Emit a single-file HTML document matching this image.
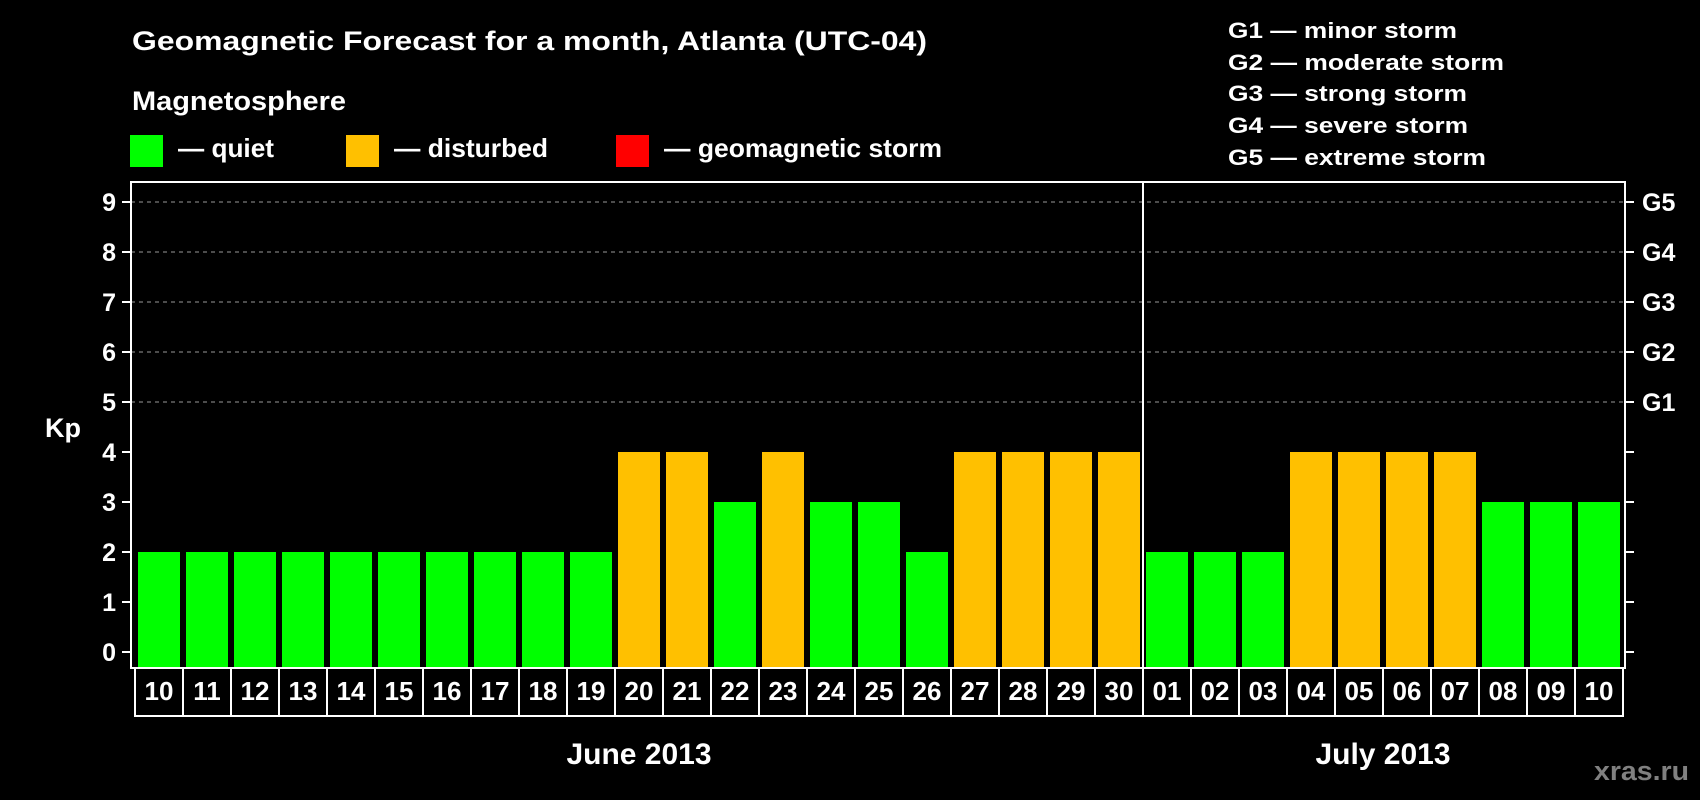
<!DOCTYPE html>
<html><head><meta charset="utf-8"><style>
html,body{margin:0;padding:0;background:#000;}
svg{display:block;font-family:"Liberation Sans",sans-serif;font-weight:bold;}
</style></head><body>
<svg id="chart" width="1700" height="800" viewBox="0 0 1700 800" xmlns="http://www.w3.org/2000/svg">
<rect width="1700" height="800" fill="#000"/>
<text x="132" y="50" font-size="27" fill="#fff" textLength="795" lengthAdjust="spacingAndGlyphs">Geomagnetic Forecast for a month, Atlanta (UTC-04)</text>
<text x="132" y="110" font-size="27" fill="#fff" textLength="214" lengthAdjust="spacingAndGlyphs">Magnetosphere</text>
<rect x="130" y="135" width="33" height="32" fill="#00ff00"/>
<text x="178" y="157" font-size="26" fill="#fff" textLength="96" lengthAdjust="spacingAndGlyphs">— quiet</text>
<rect x="346" y="135" width="33" height="32" fill="#ffc000"/>
<text x="394" y="157" font-size="26" fill="#fff" textLength="154" lengthAdjust="spacingAndGlyphs">— disturbed</text>
<rect x="616" y="135" width="33" height="32" fill="#ff0000"/>
<text x="664" y="157" font-size="26" fill="#fff" textLength="278" lengthAdjust="spacingAndGlyphs">— geomagnetic storm</text>
<g font-size="22" fill="#fff">
<text x="1228" y="38" textLength="229" lengthAdjust="spacingAndGlyphs">G1 — minor storm</text>
<text x="1228" y="70" textLength="276" lengthAdjust="spacingAndGlyphs">G2 — moderate storm</text>
<text x="1228" y="101" textLength="239" lengthAdjust="spacingAndGlyphs">G3 — strong storm</text>
<text x="1228" y="133" textLength="240" lengthAdjust="spacingAndGlyphs">G4 — severe storm</text>
<text x="1228" y="165" textLength="258" lengthAdjust="spacingAndGlyphs">G5 — extreme storm</text>
</g>
<text x="63" y="437" font-size="27" fill="#fff" text-anchor="middle">Kp</text>
<g id="grid"></g><g id="bars"></g><g id="axes"></g>
<text x="1594" y="780" font-size="27" fill="#808080" textLength="95" lengthAdjust="spacingAndGlyphs">xras.ru</text>
</svg>
<script>
const days = ["10","11","12","13","14","15","16","17","18","19","20","21","22","23","24","25","26","27","28","29","30","01","02","03","04","05","06","07","08","09","10"];
const kpValues = [2,2,2,2,2,2,2,2,2,2,4,4,3,4,3,3,2,4,4,4,4,2,2,2,4,4,4,4,3,3,3];
const yTicks = [0,1,2,3,4,5,6,7,8,9];
const gLabels = ["G1","G2","G3","G4","G5"];
const gLevels = [5,6,7,8,9];
const months = ["June 2013","July 2013"];
const monthStartIdx = [0,21];

const NS="http://www.w3.org/2000/svg";
const L=131,R=1625,T=182,B=668,X0=138,PITCH=48,BW=42;
function y(v){return 652-v*50;}
function x(i){return X0+i*PITCH;}
function mk(tag,attrs,parent){const e=document.createElementNS(NS,tag);for(const k in attrs)e.setAttribute(k,attrs[k]);parent.appendChild(e);return e;}
const grid=document.getElementById('grid'),bars=document.getElementById('bars'),axes=document.getElementById('axes');

yTicks.forEach(v=>{
  if(v>=5){const g=mk('line',{x1:L,x2:R,y1:y(v),y2:y(v),stroke:'#999','stroke-width':1,'stroke-dasharray':'4,4'},grid);
  
  }
  const t=mk('line',{x1:122,x2:L,y1:y(v),y2:y(v),stroke:'#fff','stroke-width':2},axes);
  
  
  const t2=mk('line',{x1:R,x2:1634,y1:y(v),y2:y(v),stroke:'#fff','stroke-width':2},axes);
  
  
  const lb=mk('text',{x:116,y:y(v)+9,'font-size':25,fill:'#fff','text-anchor':'end'},axes);
  lb.textContent=v;
  
  
});
gLabels.forEach((g,i)=>{
  const lb=mk('text',{x:1642,y:y(gLevels[i])+9,'font-size':25,fill:'#fff'},axes);
  lb.textContent=g;
  
  
});
kpValues.forEach((v,i)=>{
  const b=mk('rect',{x:x(i),y:y(v),width:BW,height:B-y(v),fill:v>=5?'#ff0000':(v>=4?'#ffc000':'#00ff00')},bars);
  
  
});
// frame
const fr=mk('rect',{x:L,y:T,width:R-L,height:B-T,fill:'none',stroke:'#fff','stroke-width':2},axes);


// date boxes
days.forEach((d,i)=>{
  const bx=mk('rect',{x:x(i)-3,y:B,width:PITCH,height:716-B,fill:'none',stroke:'#fff','stroke-width':2},axes);
  
  
  const t=mk('text',{x:x(i)+BW/2,y:700,'font-size':26,fill:'#fff','text-anchor':'middle'},axes);
  t.textContent=d;
  
  
});
// month separator & labels
monthStartIdx.forEach((s,m)=>{
  const e=(m+1<monthStartIdx.length?monthStartIdx[m+1]:days.length);
  if(s>0){const ln=mk('line',{x1:x(s)-3,x2:x(s)-3,y1:T,y2:716,stroke:'#fff','stroke-width':2},axes);
    
    }
  const cx=(x(s)-3+x(e)-3)/2;
  const t=mk('text',{x:cx,y:764,'font-size':30,fill:'#fff','text-anchor':'middle'},axes);
  t.textContent=months[m];
  
  
});
</script>
</body></html>
